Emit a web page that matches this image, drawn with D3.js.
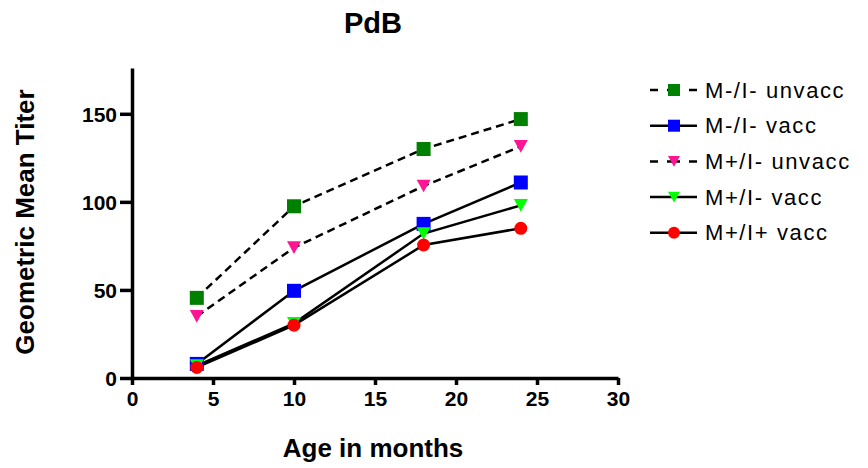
<!DOCTYPE html>
<html>
<head>
<meta charset="utf-8">
<script src="https://cdnjs.cloudflare.com/ajax/libs/d3/7.8.5/d3.min.js"></script>
<style>
  body { margin: 0; background: #fff; }
  svg { font-family: "Liberation Sans", Arial, sans-serif; }
</style>
</head>
<body>
<script>
'use strict';

// data ==========================
var ages = [4, 10, 18, 24];
var seriesNames = ['M-/I- unvacc', 'M-/I- vacc', 'M+/I- unvacc', 'M+/I- vacc', 'M+/I+ vacc'];
var mNegUnvacc = [45.5, 97.5, 130, 147];
var mNegVacc = [8, 49.5, 87.5, 111];
var mPosUnvacc = [35, 74, 109, 131.5];
var mPosVacc = [7, 31, 82, 98];
var mPosIPosVacc = [6, 30, 75.5, 85];
var xTicks = [0, 5, 10, 15, 20, 25, 30];
var yTicks = [0, 50, 100, 150];

var seriesValues = [mNegUnvacc, mNegVacc, mPosUnvacc, mPosVacc, mPosIPosVacc];
var colors = ['#008000', '#0000ff', '#ff1493', '#00ff00', '#ff0000'];
var shapes = ['square', 'square', 'tridown', 'tridown', 'circle'];
var dashed = [true, false, true, false, false];

var width = 868, height = 468;
var svg = d3.select('body').append('svg')
  .attr('width', width)
  .attr('height', height);

//Scales.
var x = d3.scaleLinear().domain([0, 30]).range([132, 618]);
var y = d3.scaleLinear().domain([0, 176]).range([378, 68]);

// axes
var xAxis = svg.append('g')
  .attr('transform', 'translate(0,378)')
  .call(d3.axisBottom(x).tickValues(xTicks).tickSize(7).tickPadding(6).tickSizeOuter(0));
var yAxis = svg.append('g')
  .attr('transform', 'translate(132,0)')
  .call(d3.axisLeft(y).tickValues(yTicks).tickSize(12).tickPadding(3).tickSizeOuter(0));

[xAxis, yAxis].forEach(function (ax) {
  ax.select('.domain').attr('stroke', '#000').attr('stroke-width', 3.5);
  ax.selectAll('.tick line').attr('stroke', '#000').attr('stroke-width', 3.5);
  ax.selectAll('.tick text')
    .attr('fill', '#000')
    .style('font-size', '21px')
    .style('font-weight', 'bold')
    .style('font-family', '"Liberation Sans", Arial, sans-serif');
});
yAxis.selectAll('.tick text').attr('dy', '0.36em');

// titles
svg.append('text')
  .attr('x', 373).attr('y', 33)
  .attr('text-anchor', 'middle')
  .style('font-size', '29px').style('font-weight', 'bold')
  .text('PdB');

svg.append('text')
  .attr('x', 373).attr('y', 457)
  .attr('text-anchor', 'middle')
  .style('font-size', '26px').style('font-weight', 'bold')
  .text('Age in months');

svg.append('text')
  .attr('transform', 'translate(34,222) rotate(-90)')
  .attr('text-anchor', 'middle')
  .style('font-size', '26px').style('font-weight', 'bold')
  .text('Geometric Mean Titer');

// marker drawing
function drawMarker(g, shape, color, cx, cy, s) {
  if (shape === 'square') {
    g.append('rect')
      .attr('x', cx - s / 2).attr('y', cy - s / 2)
      .attr('width', s).attr('height', s)
      .attr('fill', color);
  } else if (shape === 'tridown') {
    var h = s * 0.9;
    g.append('path')
      .attr('d', 'M' + (cx - s / 2) + ',' + (cy - h / 2) + 'L' + (cx + s / 2) + ',' + (cy - h / 2) + 'L' + cx + ',' + (cy + h / 2) + 'Z')
      .attr('fill', color);
  } else {
    g.append('circle').attr('cx', cx).attr('cy', cy).attr('r', s / 2).attr('fill', color);
  }
}

var line = d3.line()
  .x(function (d, i) { return x(ages[i]); })
  .y(function (d) { return y(d); });

// lines first, then markers on top
var plot = svg.append('g');
seriesValues.forEach(function (vals, k) {
  plot.append('path')
    .attr('d', line(vals))
    .attr('fill', 'none')
    .attr('stroke', '#000')
    .attr('stroke-width', 2.5)
    .attr('stroke-dasharray', dashed[k] ? '8,5' : null);
});
seriesValues.forEach(function (vals, k) {
  var g = plot.append('g');
  vals.forEach(function (v, i) {
    drawMarker(g, shapes[k], colors[k], x(ages[i]), y(v), shapes[k] === 'circle' ? 13 : 14);
  });
});

// legend
var legend = svg.append('g');
seriesNames.forEach(function (name, k) {
  var ly = 90 + k * 35.7;
  var lg = legend.append('g');
  lg.append('line')
    .attr('x1', 650).attr('x2', 697)
    .attr('y1', ly).attr('y2', ly)
    .attr('stroke', '#000').attr('stroke-width', 2.5)
    .attr('stroke-dasharray', dashed[k] ? '8,9,13,9,8' : null);
  drawMarker(lg, shapes[k], colors[k], 674, ly, 12);
  lg.append('text')
    .attr('x', 705).attr('y', ly + 7.5)
    .style('font-size', '22px')
    .style('letter-spacing', '1.6px')
    .text(name);
});
</script>
</body>
</html>
